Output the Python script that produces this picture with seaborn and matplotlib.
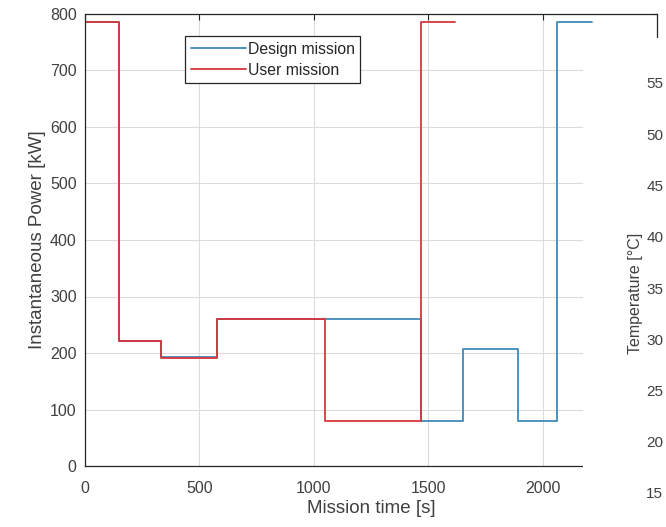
import numpy as np
import pandas as pd
import matplotlib
matplotlib.use("Agg")
import matplotlib.pyplot as plt
import seaborn as sns
from matplotlib.patches import Rectangle

# step profiles: value holds from each time until the next one
design_time = [0, 0, 150, 333, 575, 1470, 1651, 1891, 2065, 2215]
design_power = [0, 785, 222, 193, 260, 80, 207, 80, 785, 785]
user_time = [0, 0, 150, 333, 575, 1050, 1470, 1618]
user_power = [0, 785, 222, 191, 260, 80, 785, 785]

x_ticks = [0, 500, 1000, 1500, 2000]
y_ticks = [0, 100, 200, 300, 400, 500, 600, 700, 800]
temp_ticks = [15, 20, 25, 30, 35, 40, 45, 50, 55]

df = pd.concat([
    pd.DataFrame({"t": design_time, "P": design_power, "Mission": "Design mission"}),
    pd.DataFrame({"t": user_time, "P": user_power, "Mission": "User mission"}),
], ignore_index=True)

sns.set_style("white")
plt.rcParams["font.family"] = ["Liberation Sans", "DejaVu Sans"]
text_col = "#262626"
label_col = "#404040"

fig = plt.figure(figsize=(6.66, 5.27), dpi=100)
ax = fig.add_axes([85 / 666, 61 / 527, 572 / 666, 452 / 527])

sns.lineplot(
    data=df, x="t", y="P", hue="Mission",
    palette={"Design mission": "#3f8ab5", "User mission": "#d8353c"},
    estimator=None, sort=False, drawstyle="steps-post",
    linewidth=1.3, ax=ax,
)

ax.set_xlim(0, 2500)
ax.set_ylim(0, 800)
ax.set_xticks(x_ticks)
ax.set_yticks(y_ticks)
ax.grid(True, color="#dcdcdc", linewidth=0.8)
ax.tick_params(direction="in", top=True, right=True, length=4, width=0.8,
               labelsize=11.5, labelcolor=label_col, color=text_col)
ax.tick_params(axis="x", pad=11)
ax.tick_params(axis="y", pad=6)
for s in ax.spines.values():
    s.set_color(text_col)
    s.set_linewidth(0.9)
ax.set_xlabel("Mission time [s]", fontsize=13.5, color=label_col, labelpad=3)
ax.set_ylabel("Instantaneous Power [kW]", fontsize=13.5, color=label_col, labelpad=2.5)

leg = ax.legend(loc="upper left", bbox_to_anchor=(0.175, 0.951), borderaxespad=0,
                fancybox=False, framealpha=1, edgecolor=text_col, fontsize=11.3,
                handlelength=3.5, handletextpad=0.15, labelspacing=0.4,
                borderpad=0.35, title=None)
leg.get_frame().set_linewidth(0.9)

# white panel of the neighbouring figure overlapping the right edge
fig.patches.append(Rectangle((583 / 666, 0), 0.2, (527 - 38) / 527,
                             transform=fig.transFigure, facecolor="white",
                             edgecolor="none", zorder=1))

ax2 = fig.add_axes([1.0, 34 / 527, 0.3, 410 / 527])
ax2.set_zorder(2)
ax2.patch.set_visible(False)
for s in ax2.spines.values():
    s.set_visible(False)
ax2.set_ylim(15, 55)
ax2.set_yticks(temp_ticks)
ax2.set_xticks([])
ax2.tick_params(axis="y", length=0, labelsize=11, labelcolor=label_col, pad=2)
ax2.set_ylabel("Temperature [°C]", fontsize=11.5, color=label_col)
ax2.yaxis.set_label_coords(643 / 666, 1 - 293 / 527, transform=fig.transFigure)

fig.savefig("out.png", dpi=100)
